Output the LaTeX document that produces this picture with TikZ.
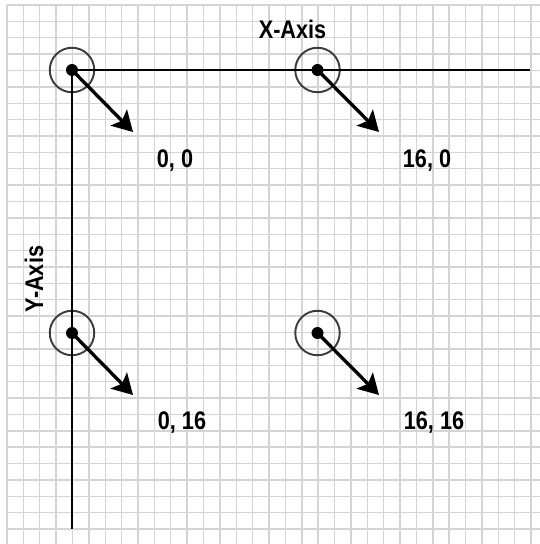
\documentclass[tikz,border=0pt]{standalone}
\usepackage{fontspec}
\setmainfont[FakeStretch=0.85]{Liberation Sans}
\usepackage{tikz}
\usetikzlibrary{arrows.meta,positioning}
\definecolor{gridgray}{HTML}{D4D4D4}
\definecolor{ringgray}{HTML}{3C3C3C}

\begin{document}
\begin{tikzpicture}[x=0.02cm, y=-0.02cm,
  gridline/.style={gridgray, line width=0.85pt},
  axis/.style={black, line width=1.6pt},
  ring/.style={draw=ringgray, circle, line width=1.1pt, minimum size=0.89cm, inner sep=0pt},
  dot/.style={fill=black, circle, minimum size=0.24cm, inner sep=0pt},
  vec/.style={-{Stealth[length=11.5pt, width=13pt, inset=2.5pt]}, line width=1.9pt, black},
  coord/.style={font=\bfseries\fontsize{14.5}{16}\selectfont, inner sep=0pt}
]
  \useasboundingbox (0,0) rectangle (540,544);
  % grid paper
  \foreach \i in {0,...,32} {
    \draw[gridline] ({7+16.375*\i},5) -- ({7+16.375*\i},544);
    \draw[gridline] (7,{5+16.375*\i}) -- (540,{5+16.375*\i});
  }
  % points
  \node[ring] (r00) at (72,70) {};
  \node[ring] (r160) at (317.5,70) {};
  \node[ring] (r016) at (72,333) {};
  \node[ring] (r1616) at (317.5,333) {};
  % axes
  \coordinate (xend) at (530,70);
  \coordinate (yend) at (72,529);
  \draw[axis] (r00.center) -- (xend);
  \draw[axis] (r00.center) -- (yend);
  \node[coord] (xlabel) at (292.5,29.5) {X-Axis};
  \node[coord, rotate=90] (ylabel) at (34,279) {Y-Axis};
  % dots and vectors
  \foreach \p/\tx/\ty/\lx/\ly/\txt in {00/133/132/175/161/{0, 0}, 160/379/132/427/161/{16, 0},
      016/133/395/182/423/{0, 16}, 1616/379/395/434/423/{16, 16}} {
    \node[dot] (d\p) at (r\p.center) {};
    \coordinate (t\p) at (\tx,\ty);
    \draw[vec] (d\p.center) -- (t\p);
    \node[coord] (l\p) at (\lx,\ly) {\txt};
  }
\end{tikzpicture}
\end{document}
